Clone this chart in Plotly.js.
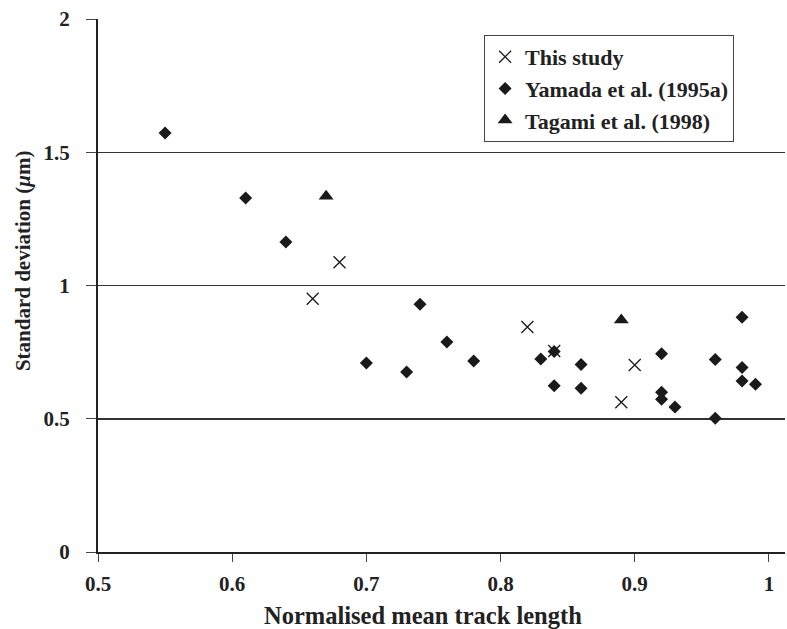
<!DOCTYPE html>
<html>
<head>
<meta charset="utf-8">
<script src="https://cdn.plot.ly/plotly-3.0.1.min.js"></script>
<style>html,body{margin:0;padding:0;background:#fff;}#chart{width:787px;height:629px;}</style>
</head>
<body>
<div id="chart"></div>
<script>
const thisStudyX = [0.66, 0.68, 0.82, 0.84, 0.89, 0.90];
const thisStudyY = [0.95, 1.087, 0.844, 0.754, 0.562, 0.702];

const yamadaX = [0.55, 0.61, 0.64, 0.70, 0.73, 0.74, 0.76, 0.78, 0.83, 0.84, 0.84, 0.86, 0.86, 0.92, 0.92, 0.92, 0.93, 0.96, 0.96, 0.98, 0.98, 0.98, 0.99];
const yamadaY = [1.572, 1.328, 1.163, 0.709, 0.675, 0.93, 0.788, 0.717, 0.724, 0.752, 0.624, 0.704, 0.614, 0.744, 0.599, 0.573, 0.544, 0.722, 0.502, 0.881, 0.692, 0.642, 0.629];

const tagamiX = [0.67, 0.89];
const tagamiY = [1.335, 0.871];

const xTicks = [0.5, 0.6, 0.7, 0.8, 0.9, 1];
const xTickText = ['0.5', '0.6', '0.7', '0.8', '0.9', '1'];
const yTicks = [0, 0.5, 1, 1.5, 2];
const yTickText = ['0', '0.5', '1', '1.5', '2'];

const xTitle = 'Normalised mean track length';
const yTitle = 'Standard deviation (<i>μ</i>m)';

const ink = '#1a1a1a';
const font = 'Liberation Serif, Times New Roman, serif';
const bold = s => '<b>' + s + '</b>';

const traces = [
  {x: thisStudyX, y: thisStudyY, name: bold('This study'), type: 'scatter', mode: 'markers',
   marker: {symbol: 'x-thin-open', size: 12, line: {color: ink, width: 1.3}, color: ink}},
  {x: yamadaX, y: yamadaY, name: bold('Yamada et al. (1995a)'), type: 'scatter', mode: 'markers',
   marker: {symbol: 'diamond', size: 10, color: ink}},
  {x: tagamiX, y: tagamiY, name: bold('Tagami et al. (1998)'), type: 'scatter', mode: 'markers',
   marker: {symbol: 'triangle-up', size: 13, color: ink}}
];

const layout = {
  width: 787, height: 629,
  margin: {l: 98, r: 2, t: 19, b: 77},
  paper_bgcolor: '#fff', plot_bgcolor: '#fff',
  font: {family: font, color: '#222', size: 20},
  showlegend: true,
  legend: {x: 0.562, y: 0.970, xanchor: 'left', yanchor: 'top',
    bordercolor: '#444', borderwidth: 1, bgcolor: '#fff',
    font: {family: font, size: 22, color: '#222'}},
  xaxis: {
    range: [0.5, 1.012], tickvals: xTicks, ticktext: xTickText.map(bold),
    tickfont: {family: font, size: 21, color: '#222'},
    showgrid: false, zeroline: false,
    showline: true, linecolor: '#222', linewidth: 2,
    ticks: 'outside', ticklen: 8, tickwidth: 1, tickcolor: '#444',
    ticklabelstandoff: 4
  },
  yaxis: {
    range: [0, 2], tickvals: yTicks, ticktext: yTickText.map(bold),
    tickfont: {family: font, size: 21, color: '#222'},
    showgrid: true, gridcolor: '#333', gridwidth: 1.5, zeroline: false,
    showline: true, linecolor: '#222', linewidth: 2,
    ticks: 'outside', ticklen: 10, tickwidth: 1, tickcolor: '#444',
    ticklabelstandoff: 12
  },
  annotations: [
    {text: bold(xTitle), xref: 'paper', yref: 'paper', x: 0.473, y: -0.12,
     xanchor: 'center', yanchor: 'middle', showarrow: false,
     font: {family: font, size: 24.5, color: '#222'}},
    {text: bold(yTitle), xref: 'paper', yref: 'paper', x: -0.109, y: 0.546,
     xanchor: 'center', yanchor: 'middle', textangle: -90, showarrow: false,
     font: {family: font, size: 21, color: '#222'}}
  ]
};

Plotly.newPlot('chart', traces, layout, {displayModeBar: false, staticPlot: true});
</script>
</body>
</html>
